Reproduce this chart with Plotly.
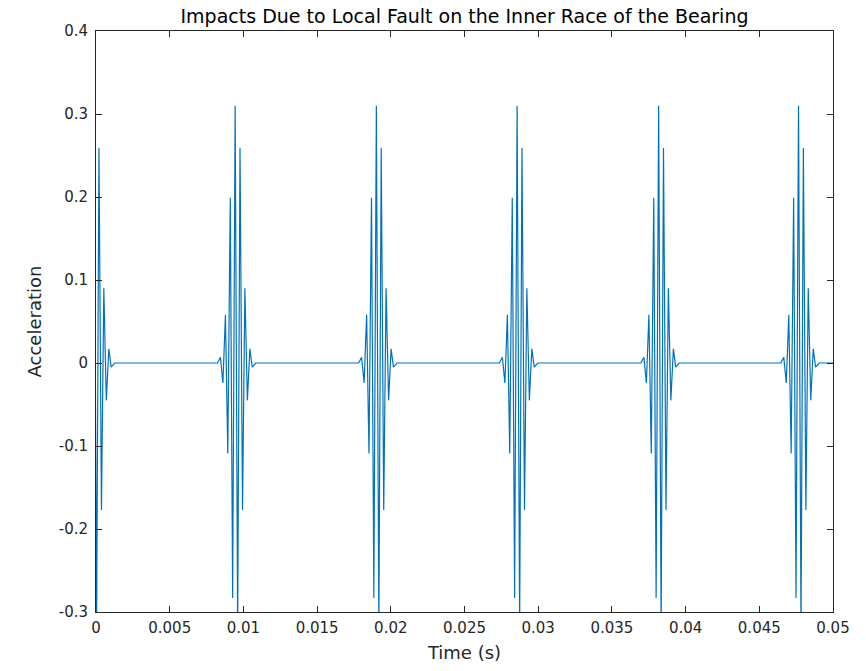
import plotly.graph_objects as go

# ---- data ----
# times (s) of the largest positive peak of each impact burst
burst_peak_times = [-0.00013, 0.00944, 0.01902, 0.02857, 0.03817, 0.04766]
# offsets (ms) of the burst extrema relative to the main peak (first/last = back to zero)
burst_offsets_ms = [-1.20, -1.00, -0.83, -0.66, -0.50, -0.33, -0.17, 0.00,
                    0.17, 0.33, 0.50, 0.66, 0.83, 1.00, 1.16, 1.40]
# acceleration at those extrema
burst_values = [0.0, 0.007, -0.024, 0.058, -0.109, 0.199, -0.283, 0.310,
                -0.320, 0.259, -0.177, 0.090, -0.045, 0.017, -0.005, 0.0]
signal_end_time = 0.05

x_ticks = [0, 0.005, 0.01, 0.015, 0.02, 0.025, 0.03, 0.035, 0.04, 0.045, 0.05]
x_tick_labels = ["0", "0.005", "0.01", "0.015", "0.02", "0.025", "0.03",
                 "0.035", "0.04", "0.045", "0.05"]
y_ticks = [-0.3, -0.2, -0.1, 0, 0.1, 0.2, 0.3, 0.4]
y_tick_labels = ["-0.3", "-0.2", "-0.1", "0", "0.1", "0.2", "0.3", "0.4"]

# ---- build the trace from the read values ----
t = []
a = []
for tp in burst_peak_times:
    for off, v in zip(burst_offsets_ms, burst_values):
        t.append(tp + off / 1000.0)
        a.append(v)
t.append(signal_end_time)
a.append(0.0)

FONT = "DejaVu Sans, sans-serif"
AX = "#262626"

fig = go.Figure()
fig.add_trace(go.Scatter(x=t, y=a, mode="lines",
                         line=dict(color="#0072BD", width=1.2),
                         hoverinfo="skip", showlegend=False))

axis_common = dict(showline=True, linecolor=AX, linewidth=1, mirror="ticks",
                   ticks="inside", ticklen=6, tickcolor=AX, tickwidth=1,
                   showgrid=False, zeroline=False, automargin=False,
                   tickfont=dict(family=FONT, size=15, color=AX))

fig.update_layout(
    width=866, height=671,
    paper_bgcolor="white", plot_bgcolor="white",
    margin=dict(l=96, r=33, t=31, b=59, autoexpand=False),
    title=dict(text="Impacts Due to Local Fault on the Inner Race of the Bearing",
               x=0.5, xref="paper", xanchor="center",
               y=1, yref="paper", yanchor="bottom", pad=dict(b=8),
               font=dict(family=FONT, size=19, color="black")),
    xaxis=dict(range=[0, 0.05], tickvals=x_ticks, ticktext=x_tick_labels,
               ticklabelstandoff=2,
               title=dict(text="Time (s)", standoff=10,
                          font=dict(family=FONT, size=18, color=AX)),
               **axis_common),
    yaxis=dict(range=[-0.3, 0.4], tickvals=y_ticks, ticktext=y_tick_labels,
               ticklabelstandoff=4,
               title=dict(text="Acceleration", standoff=12,
                          font=dict(family=FONT, size=18, color=AX)),
               **axis_common),
)

fig.write_html(
    "out.html",
    config={"displayModeBar": False},
    post_script="document.body.style.margin='0';document.body.style.overflow='hidden';",
)
